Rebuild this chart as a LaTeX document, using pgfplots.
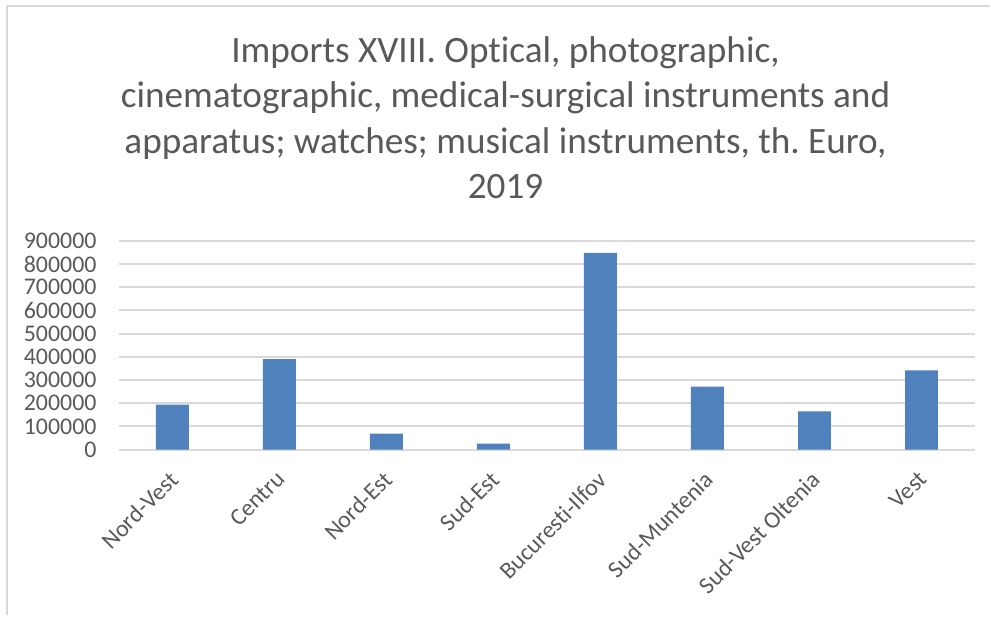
\documentclass[border=0pt]{standalone}
\usepackage{pgfplots}
\pgfplotsset{compat=1.18}
\usepackage{fontspec}
\setmainfont{Carlito}[Ligatures=NoCommon]
\frenchspacing
\definecolor{txt}{HTML}{595959}
\definecolor{grd}{HTML}{D9D9D9}
\definecolor{barblue}{HTML}{4F81BD}

\begin{document}
\begin{tikzpicture}
\begin{axis}[
    scale only axis,
    width=428.5bp, height=104.5bp,
    xmin=-0.5, xmax=7.5,
    ymin=0, ymax=900000,
    ytick distance=100000,
    xtick=data,
    xticklabels={Nord-Vest, Centru, Nord-Est, Sud-Est, Bucuresti-Ilfov, Sud-Muntenia, Sud-Vest Oltenia, Vest},
    ybar, bar width=16.5bp,
    axis line style={draw=none},
    major tick length=0pt,
    ymajorgrids,
    grid style={grd, line width=1bp},
    scaled y ticks=false,
    /pgf/number format/.cd, fixed, 1000 sep={}, assume math mode=true, /pgfplots/.cd,
    tick label style={font=\fontsize{12}{14}\selectfont, text=txt},
    yticklabel style={anchor=east, inner sep=0pt, xshift=-11bp},
    % shifts act in the rotated frame of the label
    xticklabel style={rotate=45, anchor=north east, inner sep=0pt, xshift=-8.5bp, yshift=-5.5bp},
    title={Imports XVIII. Optical, photographic,\\cinematographic, medical-surgical instruments and\\apparatus; watches; musical instruments, th. Euro,\\2019},
    title style={at={(0.4516,1)}, anchor=south, align=center, inner sep=0pt,
        yshift=15bp, font=\fontsize{18.7}{22.7}\selectfont, text=txt},
]
\addplot[fill=barblue, draw=none] coordinates {
    (0,194000) (1,390000) (2,69000) (3,25000)
    (4,848000) (5,271000) (6,165000) (7,341000)
};
\end{axis}
\coordinate (SW) at (current axis.south west);
\path (SW) ++(-59.5bp,-83bp) rectangle ++(495.5bp,308bp);
\draw[grd, line width=1bp] (SW) ++(-56bp,-83bp) -- ++(0,305bp) -- ++(492bp,0);
\end{tikzpicture}
\end{document}
